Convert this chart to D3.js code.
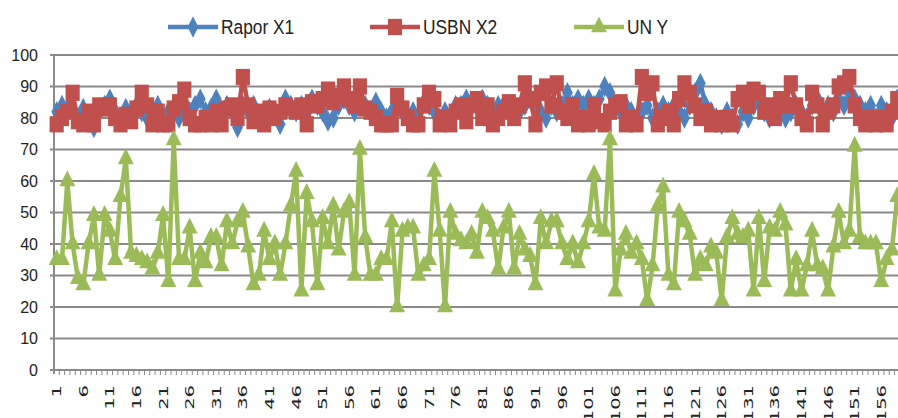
<!DOCTYPE html>
<html>
<head>
<meta charset="utf-8">
<title>Rapor X1 / USBN X2 / UN Y</title>
<script src="https://cdn.jsdelivr.net/npm/d3@7/dist/d3.min.js"></script>
<style>
    body { margin: 0; background: #fff; }
    .ylab { font-family: "Liberation Sans", Arial, sans-serif; font-size: 16px; fill: #222; }
    .xlab { font-family: "DejaVu Sans", sans-serif; font-size: 13px; fill: #222; }
    .leg { font-family: "Liberation Sans", Arial, sans-serif; font-size: 17px; fill: #222; }
</style>
</head>
<body>
<svg id="chart" width="898" height="418"></svg>
<script>
    // data
    const categories = d3.range(1, 160);
    const xTickLabels = [1, 6, 11, 16, 21, 26, 31, 36, 41, 46, 51, 56, 61, 66, 71, 76, 81, 86, 91, 96,
        101, 106, 111, 116, 121, 126, 131, 136, 141, 146, 151, 156];
    const yTicks = [0, 10, 20, 30, 40, 50, 60, 70, 80, 90, 100];

    const raporX1 = [82, 84, 83, 82, 80, 83, 80, 77, 82, 84, 86, 82, 80, 83, 81, 84, 82, 80, 82, 84,
        80, 82, 83, 80, 84, 82, 84, 86, 82, 83, 86, 82, 84, 82, 77, 84, 82, 84, 80, 82,
        83, 82, 78, 86, 84, 82, 84, 82, 86, 84, 82, 79, 80, 84, 86, 84, 82, 86, 84, 82,
        85, 82, 80, 82, 84, 82, 80, 82, 80, 85, 84, 82, 80, 82, 80, 84, 84, 86, 84, 84,
        86, 84, 82, 84, 84, 82, 84, 82, 84, 86, 84, 82, 80, 84, 82, 84, 88, 84, 86, 84,
        86, 84, 86, 90, 88, 84, 82, 84, 82, 80, 82, 84, 80, 82, 84, 82, 84, 82, 80, 84,
        88, 91, 84, 82, 80, 78, 82, 80, 78, 82, 80, 84, 86, 82, 80, 82, 84, 80, 82, 84,
        82, 80, 84, 86, 82, 84, 82, 86, 84, 88, 86, 84, 82, 84, 80, 84, 82, 80, 86];

    const usbnX2 = [78, 80, 82, 88, 79, 78, 82, 78, 84, 83, 84, 80, 78, 81, 79, 83, 88, 84, 78, 82,
        78, 78, 83, 85, 89, 80, 78, 78, 80, 78, 82, 78, 83, 84, 80, 93, 84, 79, 82, 78,
        83, 80, 82, 84, 83, 82, 84, 78, 85, 84, 86, 89, 85, 87, 90, 86, 84, 90, 83, 82,
        80, 78, 78, 78, 87, 83, 80, 78, 78, 84, 88, 86, 78, 80, 78, 82, 84, 79, 84, 86,
        80, 84, 78, 80, 82, 85, 80, 84, 91, 86, 78, 88, 90, 84, 91, 82, 80, 84, 78, 80,
        78, 84, 79, 78, 82, 84, 85, 78, 80, 78, 93, 88, 91, 78, 80, 82, 78, 86, 91, 88,
        84, 80, 82, 78, 80, 78, 80, 78, 86, 88, 84, 89, 88, 82, 84, 80, 86, 84, 91, 84,
        80, 78, 88, 84, 78, 82, 84, 90, 91, 93, 84, 80, 78, 80, 78, 80, 78, 82, 86];

    const unY = [35, 35, 60, 40, 29, 27, 40, 49, 30, 49, 44, 35, 55, 67, 37, 36, 35, 34, 32, 37,
        49, 28, 73, 35, 35, 45, 28, 37, 34, 42, 42, 33, 47, 40, 47, 50, 39, 27, 30, 44,
        35, 40, 30, 40, 52, 63, 25, 56, 47, 27, 48, 40, 52, 38, 50, 53, 30, 70, 42, 30,
        30, 35, 35, 47, 20, 44, 45, 45, 30, 33, 35, 63, 44, 20, 50, 43, 41, 40, 43, 37,
        50, 48, 44, 32, 45, 50, 32, 43, 38, 36, 27, 48, 40, 47, 47, 40, 35, 40, 34, 40,
        47, 62, 45, 44, 73, 25, 38, 43, 37, 40, 35, 22, 33, 52, 58, 30, 27, 50, 47, 43,
        30, 35, 33, 39, 37, 22, 42, 48, 43, 42, 44, 25, 48, 28, 45, 44, 50, 46, 25, 35,
        25, 33, 44, 33, 32, 25, 39, 50, 40, 44, 71, 42, 40, 40, 40, 28, 35, 38, 55];

    const seriesNames = ['Rapor X1', 'USBN X2', 'UN Y'];
    const seriesColors = ['#4F81BD', '#C0504D', '#9BBB59'];
    const seriesValues = [raporX1, usbnX2, unY];
    const seriesMarkers = [d3.symbolDiamond, d3.symbolSquare, d3.symbolTriangle];

    const svg = d3.select('#chart');
    const plotLeft = 54, plotTop = 55, plotBottom = 370;

    const x = d3.scaleBand().domain(categories).range([plotLeft, plotLeft + categories.length * 5.32]);
    const y = d3.scaleLinear().domain([0, 100]).range([plotBottom, plotTop]);
    const cx = d => x(d) + x.bandwidth() / 2;

    // gridlines
    svg.append('g').selectAll('line').data(yTicks.filter(d => d > 0)).join('line')
        .attr('x1', plotLeft - 4).attr('x2', 898)
        .attr('y1', d => y(d)).attr('y2', d => y(d))
        .attr('stroke', '#8a8a8a').attr('stroke-width', 2);

    // y axis
    svg.append('line').attr('x1', plotLeft).attr('x2', plotLeft).attr('y1', plotTop).attr('y2', plotBottom + 4)
        .attr('stroke', '#8a8a8a').attr('stroke-width', 2);
    svg.append('line').attr('x1', plotLeft - 4).attr('x2', plotLeft).attr('y1', plotBottom).attr('y2', plotBottom)
        .attr('stroke', '#8a8a8a').attr('stroke-width', 2);
    svg.append('g').selectAll('text').data(yTicks).join('text')
        .attr('class', 'ylab')
        .attr('x', 38).attr('y', d => y(d)).attr('dy', '0.35em')
        .attr('text-anchor', 'end')
        .text(d => d);

    // x axis with a tick at every category edge
    svg.append('line').attr('x1', plotLeft).attr('x2', 898).attr('y1', plotBottom).attr('y2', plotBottom)
        .attr('stroke', '#8a8a8a').attr('stroke-width', 2);
    svg.append('g').selectAll('line').data(categories).join('line')
        .attr('x1', d => x(d) + x.bandwidth()).attr('x2', d => x(d) + x.bandwidth())
        .attr('y1', plotBottom).attr('y2', plotBottom + 5)
        .attr('stroke', '#8a8a8a').attr('stroke-width', 1);
    svg.append('g').selectAll('text').data(xTickLabels).join('text')
        .attr('class', 'xlab')
        .attr('transform', d => `translate(${cx(d)}, 385) rotate(-90) scale(1.5, 1)`)
        .attr('text-anchor', 'end').attr('dy', '0.35em')
        .text(d => d);

    // series
    const line = d3.line().x((d, i) => cx(categories[i])).y(d => y(d));
    const markerSize = [100, 200, 110];

    seriesValues.forEach((vals, s) => {
        const g = svg.append('g');
        g.append('path').datum(vals)
            .attr('d', line)
            .attr('fill', 'none')
            .attr('stroke', seriesColors[s])
            .attr('stroke-width', 4.5)
            .attr('stroke-linejoin', 'round');
        g.selectAll('path.mk').data(vals).join('path')
            .attr('class', 'mk')
            .attr('d', d3.symbol().type(seriesMarkers[s]).size(markerSize[s]))
            .attr('transform', (d, i) => `translate(${cx(categories[i])}, ${y(d)}) scale(1, 1.15)`)
            .attr('fill', seriesColors[s]);
    });

    // legend
    const legX = [168, 370, 574];
    const leg = svg.append('g').selectAll('g').data(seriesNames).join('g')
        .attr('transform', (d, i) => `translate(${legX[i]}, 27)`);
    leg.append('line').attr('x1', 0).attr('x2', 50).attr('y1', 0).attr('y2', 0)
        .attr('stroke', (d, i) => seriesColors[i]).attr('stroke-width', 4.5);
    leg.append('path')
        .attr('d', (d, i) => d3.symbol().type(seriesMarkers[i]).size(markerSize[i])())
        .attr('transform', 'translate(25, 0) scale(1, 1.15)')
        .attr('fill', (d, i) => seriesColors[i]);
    leg.append('text').attr('class', 'leg')
        .attr('transform', 'translate(53, 0) scale(1.02, 1.2)')
        .attr('dy', '0.35em')
        .text(d => d);
</script>
</body>
</html>
